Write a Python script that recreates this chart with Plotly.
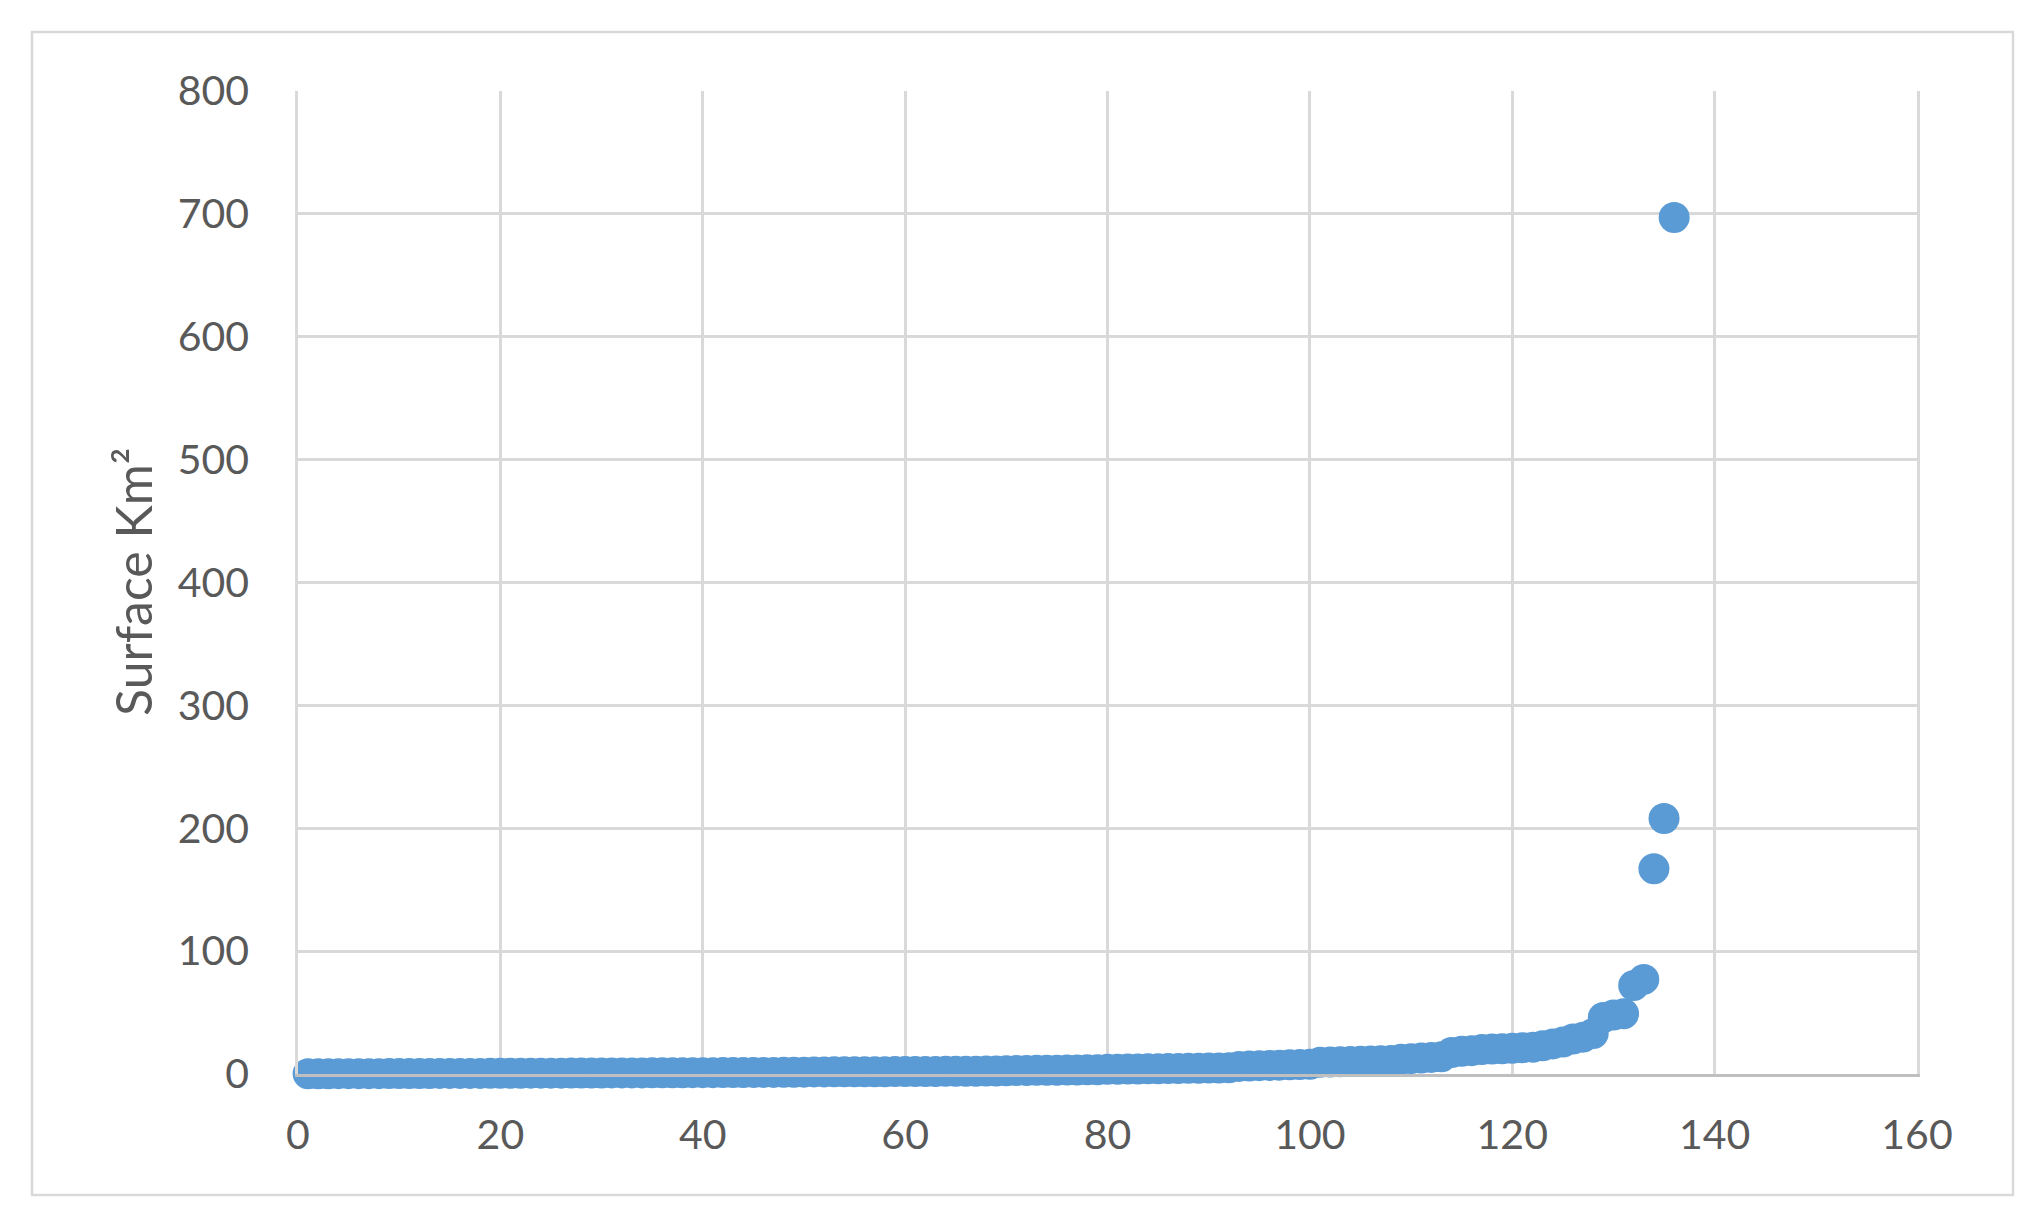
import plotly.graph_objects as go

# Data: lake index (rank) and surface in km²
surface_km2 = [
    0.2, 0.2, 0.2, 0.3, 0.3, 0.3, 0.3, 0.3, 0.4, 0.4, 0.4, 0.4, 0.4, 0.5, 0.5,
    0.5, 0.5, 0.5, 0.6, 0.6, 0.6, 0.6, 0.7, 0.7, 0.7,
    0.7, 0.8, 0.8, 0.8, 0.8, 0.9, 0.9, 0.9, 0.9, 1.0, 1.0, 1.0, 1.0, 1.1, 1.1,
    1.1, 1.2, 1.2, 1.2, 1.3, 1.3, 1.3, 1.4, 1.4, 1.5,
    1.7, 1.7, 1.8, 1.8, 1.8, 1.9, 1.9, 1.9, 2.0, 2.0, 2.0, 2.1, 2.1, 2.2, 2.2,
    2.3, 2.3, 2.4, 2.5,
    2.7, 2.8, 2.9, 3.0, 3.0, 3.1, 3.2, 3.3, 3.4, 3.5,
    3.8, 3.9, 4.0, 4.1, 4.2, 4.3, 4.4, 4.5, 4.6, 4.7, 4.8, 4.9, 5.0,
    6.2, 6.5, 6.8, 7.0, 7.2, 7.5, 7.8, 8.0,
    9.6, 9.8, 10.0, 10.2, 10.4, 10.6, 10.8, 11.0,
    12.0, 12.5, 13.0, 13.5, 14.0,
    17.5, 18.5, 19.0,
    20.0, 20.3, 20.6, 21.0, 21.4, 21.8,
    23.0, 24.5, 26.0,
    28.5, 30.0,
    33.0,
    46.0, 48.0, 49.0, 72.0, 77.0, 167.0, 208.0, 697.0,
]
rank = list(range(1, len(surface_km2) + 1))

x_ticks = [0, 20, 40, 60, 80, 100, 120, 140, 160]
y_ticks = [0, 100, 200, 300, 400, 500, 600, 700, 800]
y_title = "Surface Km²"

# The page body has an 8px margin; work in page pixels and offset.
OFF = 8
W, H = 2043 - 2 * OFF, 1225 - 2 * OFF
L, R, T, B = 298 - OFF, 1917 - OFF, 91 - OFF, 1074 - OFF  # plot area (figure px)

def px_x(p):
    return (p - OFF - L) / (R - L)

def px_y(p):
    return (B - (p - OFF)) / (B - T)

tick_font = dict(family="Lato, Carlito, Calibri, sans-serif", size=41, color="#595959")
grid = "#D9D9D9"

fig = go.Figure()
fig.add_trace(go.Scatter(
    x=rank, y=surface_km2, mode="markers",
    marker=dict(size=31, color="#5B9BD5", line=dict(width=0)),
    cliponaxis=False, showlegend=False,
))

fig.update_layout(
    width=W, height=H,
    margin=dict(l=L, r=W - R, t=T, b=H - B, pad=0),
    paper_bgcolor="white", plot_bgcolor="white",
    xaxis=dict(
        range=[0, 160], tickvals=x_ticks, ticktext=[str(v) for v in x_ticks],
        showgrid=True, gridcolor=grid, gridwidth=2.5, zeroline=False,
        showline=True, linecolor="#BFBFBF", linewidth=3,
        ticks="outside", ticklen=23, tickcolor="rgba(0,0,0,0)",
        tickfont=tick_font,
    ),
    yaxis=dict(
        range=[0, 800], tickvals=y_ticks, ticktext=[str(v) for v in y_ticks],
        showgrid=True, gridcolor=grid, gridwidth=2.5, zeroline=False,
        showline=True, linecolor=grid, linewidth=2.5, mirror=True,
        ticks="outside", ticklen=38, tickcolor="rgba(0,0,0,0)",
        tickfont=tick_font,
    ),
    shapes=[dict(
        type="rect", xref="paper", yref="paper",
        x0=px_x(32), x1=px_x(2013), y0=px_y(1195), y1=px_y(32),
        line=dict(color=grid, width=2.5), layer="below",
    )],
    annotations=[dict(
        text=y_title, xref="paper", yref="paper",
        x=px_x(133), y=px_y(582), xanchor="center", yanchor="middle",
        textangle=-90, showarrow=False,
        font=dict(family="Lato, Carlito, Calibri, sans-serif", size=50, color="#595959"),
    )],
)

fig.write_html("out.html")
